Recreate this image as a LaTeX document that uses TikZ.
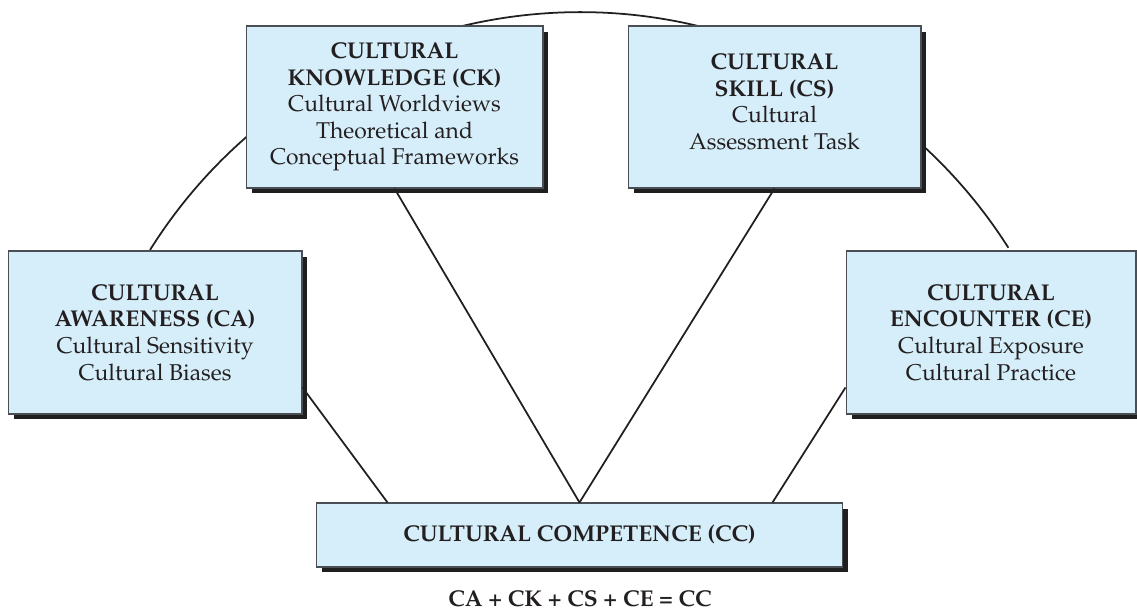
\documentclass[tikz,border=0pt]{standalone}
\usepackage[T1]{fontenc}
\usepackage{mathpazo}
\usepackage{xcolor}
\definecolor{boxblue}{HTML}{D5EEFA}
\definecolor{boxedge}{HTML}{4A4F55}
\definecolor{inkdark}{HTML}{231F20}
\usepackage{tikz}
\usetikzlibrary{shadows}
\tikzset{
  cbox/.style ={rectangle, draw=boxedge, line width=0.6pt, fill=boxblue, text=inkdark, align=center,
                inner sep=3pt, font=\fontsize{13}{15.1}\selectfont,
                drop shadow={shadow xshift=0.11cm, shadow yshift=-0.11cm, fill=black!88, opacity=1}},
  cline/.style={line width=1pt, color=inkdark},
  ceq/.style  ={font=\fontsize{13}{15.1}\selectfont\bfseries, text=inkdark},
}
\begin{document}
\begin{tikzpicture}[x=0.02cm, y=-0.02cm]
  \useasboundingbox (0,0) rectangle (1137,612);
  % outer ring behind the boxes
  \draw[cline] (150,250) arc[start angle=212.1, end angle=327.6, radius=507.5];
  \node[cbox, minimum width=5.94cm, minimum height=3.24cm] (ck) at (394.5,107) {\textbf{CULTURAL}\\\textbf{KNOWLEDGE (CK)}\\Cultural Worldviews\\Theoretical and\\Conceptual Frameworks};
  \node[cbox, minimum width=5.86cm, minimum height=3.24cm] (cs) at (774.5,107) {\textbf{CULTURAL}\\\textbf{SKILL (CS)}\\Cultural\\Assessment Task\\[-9pt]};
  \node[cbox, minimum width=5.88cm, minimum height=3.26cm] (ca) at (155,332.5) {\textbf{CULTURAL}\\\textbf{AWARENESS (CA)}\\Cultural Sensitivity\\Cultural Biases};
  \node[cbox, minimum width=5.80cm, minimum height=3.26cm] (ce) at (991,332.5) {\textbf{CULTURAL}\\\textbf{ENCOUNTER (CE)}\\Cultural Exposure\\Cultural Practice};
  \node[cbox, minimum width=10.54cm, minimum height=1.28cm] (cc) at (579.5,535) {\textbf{CULTURAL COMPETENCE (CC)}};
  \node[ceq] (eq) at (580,599) {CA + CK + CS + CE = CC};
  % spokes into CC
  \draw[cline] ([yshift=-1.1cm]ca.east) -- ([xshift=1.44cm]cc.north west);
  \draw[cline] (ck.south) -- (cc.north);
  \draw[cline] (cs.south) -- (cc.north);
  \draw[cline] ([yshift=-1.1cm]ce.west) -- ([xshift=-1.42cm]cc.north east);
\end{tikzpicture}
\end{document}
